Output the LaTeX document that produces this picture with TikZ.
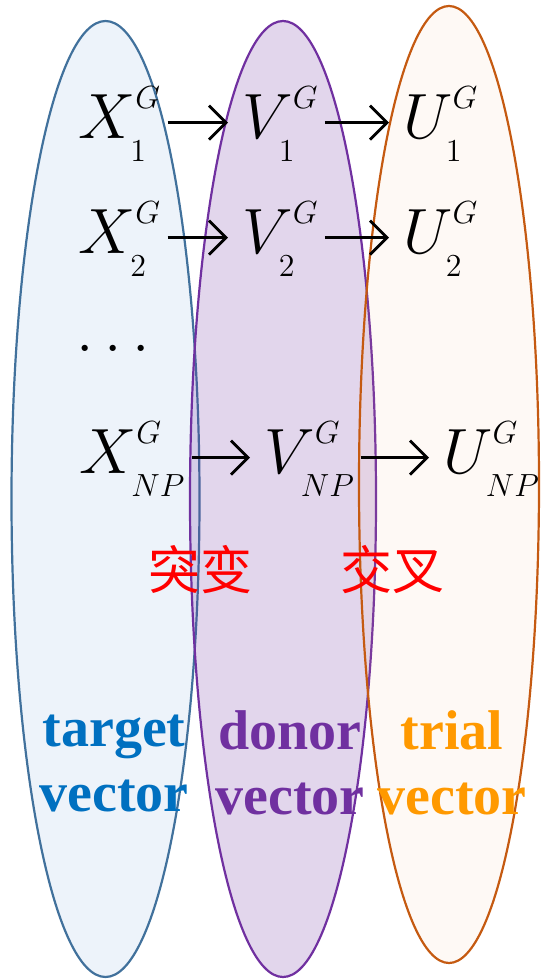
\RequirePackage{fix-cm}
\documentclass[tikz,border=0pt]{standalone}
\usepackage{fontspec}
\usepackage{tikz}
\usetikzlibrary{arrows.meta, positioning, backgrounds}
\newfontfamily\cjkfont{Noto Sans CJK SC}
\newfontfamily\labelfont{Liberation Serif}
\definecolor{tgtline}{HTML}{41719C}
\definecolor{tgtfill}{HTML}{EDF3FA}
\definecolor{tgttext}{HTML}{0070C0}
\definecolor{dnrline}{HTML}{7030A0}
\definecolor{trlline}{HTML}{C55A11}
\definecolor{trlfill}{HTML}{F4B183}
\definecolor{trltext}{HTML}{FF9900}
\tikzset{
	vecnode/.style={inner sep=0pt, anchor=base west, font=\fontsize{32}{38}\selectfont}
}
\tikzset{
	flow/.style={line width=1.4pt, -{Straight Barb[length=8.5pt, width=17pt]}, shorten <=3pt, shorten >=7pt, transform canvas={yshift=5.5pt}}
}
\tikzset{
	oplabel/.style={inner sep=0pt, text=red, font=\cjkfont\fontsize{26}{30}\selectfont},
	veclabel/.style={inner sep=0pt, align=center, font=\labelfont\bfseries\fontsize{28}{32.5}\selectfont},
	popline/.style={line width=1.1pt}
}
\newcommand{\gvec}[2]{#1^{\raisebox{3pt}{$\scriptscriptstyle G$}}_{\raisebox{-4pt}{$\scriptscriptstyle #2$}}}

\begin{document}
\begin{tikzpicture}[x=0.5pt, y=-0.5pt]
  \useasboundingbox (0,0) rectangle (541,980);

  % the three populations
  \filldraw[popline, draw=tgtline, fill=tgtfill] (105.5,499) ellipse [x radius=94, y radius=478];
  \filldraw[popline, draw=dnrline, fill=dnrline, fill opacity=0.2] (283,499) ellipse [x radius=93, y radius=478];
  \filldraw[popline, draw=trlline, fill=trlfill, fill opacity=0.08] (449,484.5) ellipse [x radius=90, y radius=478.5];

  \node[vecnode] (x1) at (78,138) {$\gvec{X}{1}$};
  \node[vecnode] (v1) at (242,138) {$\gvec{V}{1}$};
  \node[vecnode] (u1) at (403,138) {$\gvec{U}{1}$};

  \node[vecnode] (x2) at (78,253) {$\gvec{X}{2}$};
  \node[vecnode] (v2) at (242,253) {$\gvec{V}{2}$};
  \node[vecnode] (u2) at (403,253) {$\gvec{U}{2}$};

  \node[vecnode] (dots) at (76,351) {$\dots$};

  \node[vecnode] (xn) at (79,473) {$\gvec{X}{NP}$};
  \node[vecnode] (vn) at (264,473) {$\gvec{V}{NP}$};
  \node[vecnode] (un) at (443,473) {$\gvec{U}{NP}$};

  \draw[flow] (x1.mid east) -- (v1.mid west);
  \draw[flow] (v1.mid east) -- (u1.mid west);
  \draw[flow] (x2.mid east) -- (v2.mid west);
  \draw[flow] (v2.mid east) -- (u2.mid west);
  \draw[flow] (xn.mid east) -- (vn.mid west);
  \draw[flow] (vn.mid east) -- (un.mid west);

  \node[oplabel] (mut) at (200,570) {突变};
  \node[oplabel] (crs) at (392,570) {交叉};

  \node[veclabel, text=tgttext] (tgt) at (114,763) {target\\vector};
  \node[veclabel, text=dnrline] (dnr) at (290,763) {donor\\vector};
  \node[veclabel, text=trltext] (trl) at (452,763) {trial\\vector};
\end{tikzpicture}
\end{document}
